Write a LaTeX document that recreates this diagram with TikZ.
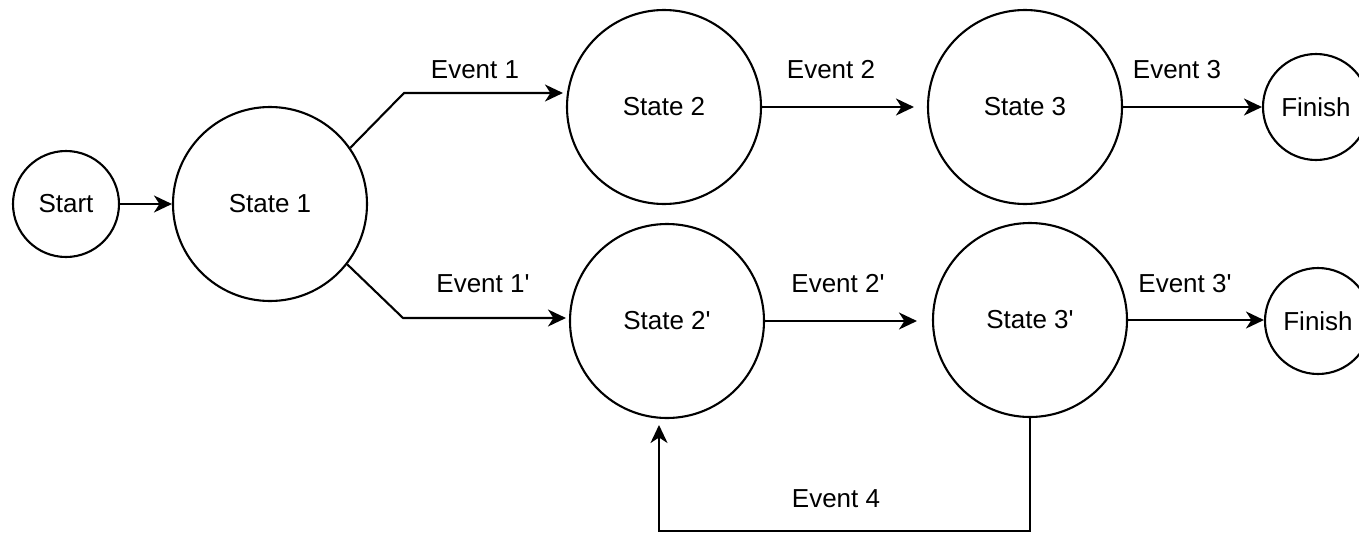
\documentclass[tikz,border=0pt]{standalone}
\usepackage{fontspec}
\setmainfont{Liberation Sans}
\usetikzlibrary{arrows.meta,calc}
\newcommand{\pr}{\textquotesingle}
\begin{document}
\begin{tikzpicture}[x=1pt,y=-1pt,
  every node/.style={font=\fontsize{26}{30}\selectfont},
  state/.style={circle,draw,line width=2.1pt,inner sep=0pt,minimum size=194pt},
  endstate/.style={circle,draw,line width=2.1pt,inner sep=0pt,minimum size=106pt},
  lbl/.style={anchor=base,inner sep=0pt},
  arr/.style={line width=2.1pt,-{Stealth[length=18pt,width=17pt,inset=5.5pt]}}]
\useasboundingbox (0,0) rectangle (1359,533);
\fill[white] (0,0) rectangle (1359,533);

% states
\node[endstate] (start) at (66,204) {Start};
\node[state] (s1) at (270,204) {State 1};
\node[state] (s2) at (664,107) {State 2};
\node[state] (s3) at (1025,107) {State 3};
\node[endstate] (f1) at (1316,107) {Finish};
\node[state] (s2p) at (667,321) {State 2\pr};
\node[state] (s3p) at (1030,320) {State 3\pr};
\node[endstate] (f2) at (1318,321) {Finish};

% bend points of the routed connectors
\coordinate (k1) at (404,93);
\coordinate (k2) at (403,318);
\coordinate (k3) at (1030,531);
\coordinate (k4) at (659,531);
\coordinate (k5) at (659,418);

% transitions
\draw[arr] (start) -- (s1);
\draw[arr,shorten >=3pt] (s1.35) -- (k1) -- (k1 -| s2.west);
\draw[arr,shorten >=3pt] (s1.-38) -- (k2) -- (k2 -| s2p.west);
\draw[arr,shorten >=13pt] (s2.east) -- (s3.west);
\draw[arr] (s3.east) -- (f1.west);
\draw[arr,shorten >=15pt] (s2p.east) -- (s2p.east -| s3p.west);
\draw[arr] (s3p.east) -- (s3p.east -| f2.west);
\draw[arr,shorten >=7pt] (s3p.south) -- (k3) -- (k4) -- (k5);

% event labels
\node[lbl] (e1) at (475,78) {Event 1};
\node[lbl] (e1p) at (483,292) {Event 1\pr};
\node[lbl] (e2) at (831,78) {Event 2};
\node[lbl] (e2p) at (838,292) {Event 2\pr};
\node[lbl] (e3) at (1177,78) {Event 3};
\node[lbl] (e3p) at (1185,292) {Event 3\pr};
\node[lbl] (e4) at (836,507) {Event 4};
\end{tikzpicture}
\end{document}
